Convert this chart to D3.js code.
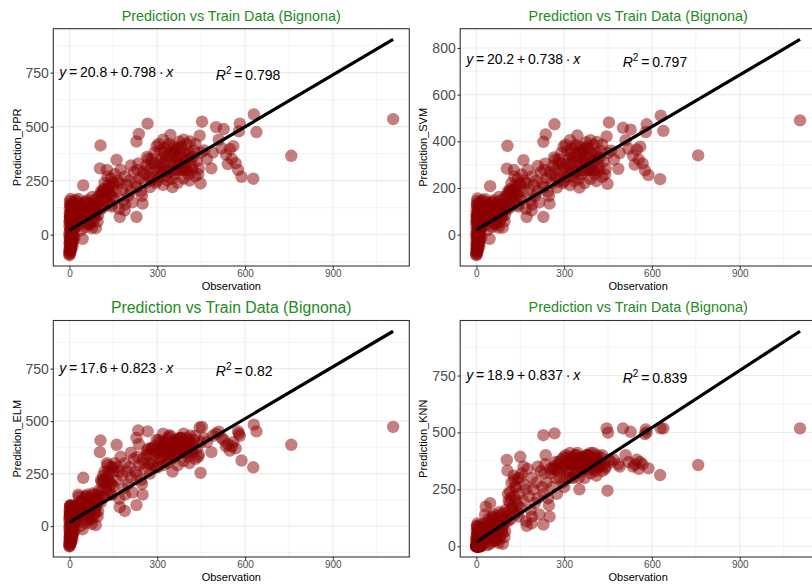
<!DOCTYPE html>
<html><head><meta charset="utf-8">
<script src="https://cdn.jsdelivr.net/npm/d3@7"></script>
<style>body{margin:0;background:#fff}svg{display:block}</style>
</head><body>
<svg id="c" width="812" height="584"></svg>
<script>
// ---------- data ----------
const obs = [
 0,0,0,0,0,1,1,1,2,2,2,3,3,3,4,4,5,5,5,6,6,7,7,8,8,9,9,10,10,11,11,12,12,13,14,15,15,16,17,18,18,19,20,20,0,1,2,3,4,6,
 22,25,28,30,32,35,38,40,42,45,47,48,50,52,55,58,60,62,65,68,70,72,75,78,80,82,85,88,90,92,95,98,100,30,44,56,66,76,86,96,
 104,106,108,110,115,118,120,125,128,130,135,140,142,145,150,155,160,161,165,170,172,175,180,185,189,190,195,200,205,210,215,220,225,229,229,232,235,237,240,245,248,250,252,110,130,150,170,190,210,230,
 255,260,265,267,270,275,280,285,290,295,300,305,310,315,320,325,330,335,340,345,350,352,355,360,365,370,375,380,385,390,395,400,405,410,412,415,420,425,430,435,440,442,445,448,450,453,270,290,310,330,350,370,390,410,430,280,320,360,400,340,
 460,470,485,490,501,510,520,527,535,541,548,555,560,568,576,579,582,588,628,630,639,758,1106,
 0,0,1,1,2,2,3,3,4,5,5,6,7,8,9,10,11,12,13,14,0,2,4,6,8,10,12,14,1,3,
 24,34,38,46,54,62,70,78,84,92,100,108,115,122,128,135,142,60,74,88,102,118,132,145,150,
 262,272,282,292,298,308,318,322,328,338,342,348,358,362,368,372,378,382,388,392,398,402,408,418,422,300,310,320,330,340,350,360,370,380,390
];
const predPPR = [
 -95,-70,-40,10,60,-85,-20,120,-60,30,140,-50,0,90,-30,165,-75,20,110,-10,70,-45,130,5,95,-25,50,15,145,-35,80,40,125,-5,100,25,150,60,-15,35,115,75,45,160,-80,-55,85,-65,55,105,
 60,95,40,120,150,75,20,110,140,-19,228,60,100,130,35,85,160,115,70,145,45,95,125,175,60,105,140,80,30,110,165,90,130,165,95,150,55,30,100,60,
 307,413,200,160,210,130,240,180,300,150,220,190,260,130,230,280,200,346,250,120,82,300,210,160,113,270,230,180,250,200,150,290,240,82,431,300,330,466,260,200,180,144,290,190,270,170,240,140,320,220,
 280,240,360,514,300,220,330,260,380,240,310,420,270,350,230,400,300,250,370,462,320,220,410,280,350,240,430,300,360,260,330,420,280,250,431,350,300,390,270,340,280,307,458,237,380,523,350,330,390,360,260,400,310,370,420,250,330,380,300,290,
 390,350,307,380,498,440,400,489,370,327,396,350,410,331,300,478,514,268,259,557,475,365,535,
 40,-90,65,100,-35,75,135,-15,20,50,-60,95,10,-40,120,65,-20,90,30,110,-5,155,-70,35,0,-55,20,55,85,-25,
 110,70,130,90,150,80,120,100,160,130,180,120,200,170,210,190,140,50,110,90,150,200,230,180,240,
 320,270,350,300,410,330,290,380,340,410,300,360,330,390,300,360,330,400,300,380,350,300,380,320,360,250,290,440,270,420,380,300,330,410,440
];
const predSVM = [
 -88,-65,-38,8,55,-80,-18,112,-56,26,130,-46,2,84,-28,155,-70,18,100,-8,64,-42,120,6,88,-22,46,14,135,-32,74,36,115,-4,92,24,140,55,-12,32,106,70,42,148,-75,-50,78,-60,50,97,
 56,88,38,112,140,70,20,102,130,-18,208,56,92,120,33,80,148,107,65,134,42,88,116,162,56,97,130,75,30,102,152,84,120,152,88,139,52,30,93,57,
 283,381,185,148,194,120,221,166,277,138,203,175,240,120,212,258,185,319,231,111,76,277,194,148,104,249,212,166,231,185,138,268,221,76,398,277,304,430,240,185,166,133,268,175,249,157,221,129,295,203,
 258,221,331,473,276,202,304,239,350,221,285,386,248,322,212,368,276,230,340,425,294,202,377,258,322,221,396,276,331,239,304,386,258,230,397,322,276,359,248,313,258,282,421,218,350,481,322,304,359,331,239,368,285,340,386,230,304,350,276,267,
 360,322,282,350,458,405,368,450,340,300,365,322,377,305,276,440,473,255,238,510,445,340,490,
 38,-84,60,92,-32,70,125,-13,19,46,-56,88,10,-37,110,60,-18,83,28,101,-4,143,-65,32,1,-51,19,51,79,-23,
 101,65,120,83,138,74,110,92,147,120,166,110,184,156,193,175,129,46,101,83,138,184,212,166,221,
 295,248,322,276,377,304,267,350,313,377,276,331,304,359,276,331,304,368,276,350,322,276,350,295,331,230,267,405,248,386,350,276,304,377,405
];
const predELM = [
 -96,-75,-50,0,40,-90,-30,80,-65,10,95,-55,-10,60,-40,100,-80,5,70,-20,45,-50,85,-5,65,-35,30,0,90,-45,50,20,75,-15,60,10,95,35,-25,15,70,40,25,100,-85,-60,55,-70,30,65,
 40,80,20,100,140,60,0,95,125,-15,230,45,90,120,15,70,150,100,55,135,30,80,110,155,40,90,130,60,5,95,150,70,120,150,80,140,40,10,85,45,
 352,408,220,170,240,140,260,200,300,160,250,200,280,150,260,300,220,387,280,130,90,330,240,180,72,300,260,200,280,230,160,320,260,100,420,330,456,390,290,220,200,150,320,210,290,190,260,150,350,240,
 300,270,360,451,340,250,370,300,380,280,350,410,320,380,290,400,350,300,390,430,360,260,400,330,380,290,420,350,390,310,370,420,330,300,430,380,350,410,320,370,330,340,470,253,400,472,370,360,400,380,320,410,360,400,430,290,370,400,350,340,
 420,400,352,430,440,450,420,410,380,390,360,380,400,370,451,440,430,312,280,483,451,387,472,
 25,-95,45,70,-45,50,90,-25,5,35,-70,65,-5,-50,85,45,-30,60,15,80,-15,98,-80,20,-10,-65,5,40,60,-35,
 90,50,115,70,140,60,105,85,150,120,170,115,220,180,230,210,150,30,95,75,140,210,260,200,280,
 340,300,370,340,410,360,330,400,370,420,350,390,370,410,340,390,370,420,350,400,380,350,410,360,390,280,330,440,310,430,400,340,370,420,440
];
const predKNN = [
 0,0,0,2,30,0,5,70,0,15,90,0,0,50,3,100,0,10,60,0,35,0,75,5,55,0,25,8,85,0,40,20,65,0,45,12,95,30,0,18,60,38,22,80,0,0,45,0,28,55,
 30,70,15,100,174,55,5,90,120,10,189,40,80,110,20,60,140,95,45,125,25,75,100,150,35,85,120,55,10,90,145,65,110,140,70,125,30,15,80,40,
 379,332,230,150,240,120,280,170,310,140,260,180,300,130,393,320,200,350,270,110,90,340,220,160,100,300,250,190,280,210,140,330,260,95,488,320,360,400,280,210,180,130,340,200,290,170,250,130,350,230,
 320,260,350,496,340,230,360,300,380,280,350,400,330,370,300,390,360,320,380,410,350,250,390,340,370,300,400,350,380,320,360,410,330,310,400,370,350,390,330,360,340,350,518,244,499,380,370,350,390,360,300,390,360,380,400,330,360,380,350,320,
 370,380,360,350,518,400,370,503,350,360,380,340,370,360,493,513,500,342,313,518,518,357,518,
 0,0,20,40,0,15,60,0,5,25,0,35,0,0,70,30,0,50,10,65,0,85,0,12,0,0,5,20,30,0,
 80,40,100,60,130,50,95,70,140,110,160,110,190,170,220,200,150,25,90,65,130,210,260,230,300,
 340,300,370,340,390,360,320,380,360,400,340,370,360,390,340,370,360,400,340,390,370,340,390,350,370,260,300,410,300,400,380,330,350,400,410
];
const modelNames = ["PPR","SVM","ELM","KNN"];
const intercepts = ["20.8","20.2","17.6","18.9"];
const slopes = ["0.798","0.738","0.823","0.837"];
const r2Labels = ["0.798","0.797","0.82","0.839"];
const xTicks = [0,300,600,900];
const yTicksPPR = [0,250,500,750];
const yTicksSVM = [0,200,400,600,800];
const yTicksELM = [0,250,500,750];
const yTicksKNN = [0,250,500,750];
const titleText = "Prediction vs Train Data (Bignona)";
const xLabel = "Observation";

// ---------- drawing ----------
const preds = [predPPR, predSVM, predELM, predKNN];
const yTicksAll = [yTicksPPR, yTicksSVM, yTicksELM, yTicksKNN];
const layout = [
  {x:53.3, y:28.7, w:356, h:237.3, ts:14.4, ty:20.5, ylx:21},
  {x:460.2, y:28.7, w:356, h:237.3, ts:14.4, ty:20.5, ylx:426.5},
  {x:53.3, y:320.5, w:356, h:236.5, ts:15.8, ty:313, ylx:21},
  {x:460.2, y:320.5, w:356, h:236.5, ts:14.4, ty:312, ylx:426.5}
];
const FONT = "'Liberation Sans', Arial, Helvetica, sans-serif";
const svg = d3.select("#c");
svg.append("rect").attr("width",812).attr("height",584).attr("fill","#fff");

const xExt = d3.extent(obs);
const xr = xExt[1]-xExt[0];
const TS = "\u2009";

modelNames.forEach((m,i) => {
  const L = layout[i];
  const p = preds[i];
  const a = +intercepts[i], b = +slopes[i];
  const lineData = [{x:xExt[0], y:a+b*xExt[0]}, {x:xExt[1], y:a+b*xExt[1]}];
  const yVals = p.concat(lineData.map(d=>d.y));
  const yExt = d3.extent(yVals);
  const yr = yExt[1]-yExt[0];
  const x = d3.scaleLinear().domain([xExt[0]-0.05*xr, xExt[1]+0.05*xr]).range([L.x, L.x+L.w]);
  const y = d3.scaleLinear().domain([yExt[0]-0.05*yr, yExt[1]+0.05*yr]).range([L.y+L.h, L.y]);
  const g = svg.append("g");
  const cid = "clip"+i;
  g.append("clipPath").attr("id",cid).append("rect")
    .attr("x",L.x).attr("y",L.y).attr("width",L.w).attr("height",L.h);
  const pg = g.append("g").attr("clip-path",`url(#${cid})`);
  pg.append("rect").attr("x",L.x).attr("y",L.y).attr("width",L.w).attr("height",L.h).attr("fill","#fff");

  const yT = yTicksAll[i];
  const ys = yT[1]-yT[0], xs = xTicks[1]-xTicks[0];
  const yd = y.domain(), xd = x.domain();
  const yMinor = [], xMinor = [], yMajor = [], xMajor = [];
  for (let v = yT[0]-ys/2; v <= yd[1]; v += ys) if (v >= yd[0]) yMinor.push(v);
  for (let v = xTicks[0]-xs/2; v <= xd[1]; v += xs) if (v >= xd[0]) xMinor.push(v);
  for (let v = yT[0]-ys*2; v <= yd[1]; v += ys) if (v >= yd[0]) yMajor.push(v);
  for (let v = xTicks[0]; v <= xd[1]; v += xs) if (v >= xd[0]) xMajor.push(v);

  pg.selectAll(".ymn").data(yMinor).join("line")
    .attr("x1",L.x).attr("x2",L.x+L.w).attr("y1",d=>y(d)).attr("y2",d=>y(d))
    .attr("stroke","#ebebeb").attr("stroke-width",0.6);
  pg.selectAll(".xmn").data(xMinor).join("line")
    .attr("y1",L.y).attr("y2",L.y+L.h).attr("x1",d=>x(d)).attr("x2",d=>x(d))
    .attr("stroke","#ebebeb").attr("stroke-width",0.6);
  pg.selectAll(".ymj").data(yMajor).join("line")
    .attr("x1",L.x).attr("x2",L.x+L.w).attr("y1",d=>y(d)).attr("y2",d=>y(d))
    .attr("stroke","#ebebeb").attr("stroke-width",1.1);
  pg.selectAll(".xmj").data(xMajor).join("line")
    .attr("y1",L.y).attr("y2",L.y+L.h).attr("x1",d=>x(d)).attr("x2",d=>x(d))
    .attr("stroke","#ebebeb").attr("stroke-width",1.1);

  pg.selectAll("circle").data(obs.map((o,k)=>({o, v:p[k]}))).join("circle")
    .attr("cx",d=>x(d.o)).attr("cy",d=>y(d.v)).attr("r",6.2)
    .attr("fill","#8B0000").attr("fill-opacity",0.5);

  pg.append("path").datum(lineData)
    .attr("d", d3.line().x(d=>x(d.x)).y(d=>y(d.y)))
    .attr("stroke","#000").attr("stroke-width",3.2).attr("fill","none");

  const eq = pg.append("text").attr("x", x(-35)).attr("y", y(730))
    .attr("font-family",FONT).attr("font-size",14).attr("fill","#000");
  eq.append("tspan").attr("font-style","italic").text("y");
  eq.append("tspan").text(`${TS}=${TS}${intercepts[i]}${TS}+${TS}${slopes[i]}${TS}\u00B7${TS}`);
  eq.append("tspan").attr("font-style","italic").text("x");
  const r2 = pg.append("text").attr("x", x(500)).attr("y", y(717))
    .attr("font-family",FONT).attr("font-size",14).attr("fill","#000");
  r2.append("tspan").attr("font-style","italic").text("R");
  r2.append("tspan").attr("font-size",10).attr("dy",-6).text("2");
  r2.append("tspan").attr("dy",6).text(`${TS}=${TS}${r2Labels[i]}`);

  g.append("rect").attr("x",L.x).attr("y",L.y).attr("width",L.w).attr("height",L.h)
    .attr("fill","none").attr("stroke","#333").attr("stroke-width",1.1);

  const ya = g.append("g").attr("transform",`translate(${L.x},0)`)
    .call(d3.axisLeft(y).tickValues(yT).tickSize(2.7).tickPadding(1.8));
  ya.select(".domain").remove();
  ya.selectAll("line").attr("stroke","#333").attr("stroke-width",1.1);
  ya.selectAll("text").attr("font-family",FONT).attr("font-size",14).attr("fill","#4d4d4d");
  const xa = g.append("g").attr("transform",`translate(0,${L.y+L.h})`)
    .call(d3.axisBottom(x).tickValues(xTicks).tickSize(2.7).tickPadding(1.5));
  xa.select(".domain").remove();
  xa.selectAll("line").attr("stroke","#333").attr("stroke-width",1.1);
  xa.selectAll("text").attr("font-family",FONT).attr("font-size",10).attr("fill","#4d4d4d");

  g.append("text").attr("x",L.x+L.w/2).attr("y",L.y+L.h+24)
    .attr("text-anchor","middle").attr("font-family",FONT).attr("font-size",11).attr("fill","#000")
    .text(xLabel);
  g.append("text").attr("transform",`translate(${L.ylx},${L.y+L.h/2}) rotate(-90)`)
    .attr("text-anchor","middle").attr("font-family",FONT).attr("font-size",11).attr("fill","#000")
    .text("Prediction_"+m);
  g.append("text").attr("x",L.x+L.w/2).attr("y",L.ty)
    .attr("text-anchor","middle").attr("font-family",FONT).attr("font-size",L.ts).attr("fill","#228B22")
    .text(titleText);
});
</script>
</body></html>
